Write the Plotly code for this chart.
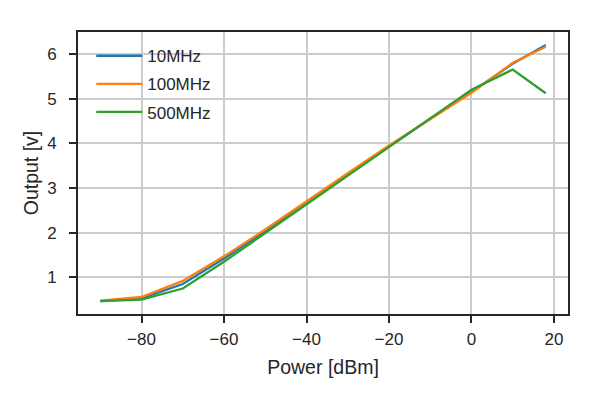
import plotly.graph_objects as go

power = [-90, -80, -70, -60, -50, -40, -30, -20, -10, 0, 10, 18]
out_10mhz = [0.47, 0.53, 0.85, 1.42, 2.03, 2.68, 3.30, 3.93, 4.55, 5.15, 5.78, 6.20]
out_100mhz = [0.48, 0.56, 0.92, 1.47, 2.07, 2.71, 3.33, 3.95, 4.55, 5.13, 5.80, 6.16]
out_500mhz = [0.47, 0.50, 0.75, 1.35, 1.99, 2.63, 3.28, 3.93, 4.55, 5.20, 5.65, 5.12]

series = [
    ("10MHz", out_10mhz, "#1f77b4"),
    ("100MHz", out_100mhz, "#ff7f0e"),
    ("500MHz", out_500mhz, "#2ca02c"),
]

fig = go.Figure()
for name, vals, color in series:
    fig.add_trace(go.Scatter(x=power, y=vals, mode="lines", name=name,
                             legendgroup=name,
                             line=dict(color=color, width=2.3)))

axis_common = dict(
    showline=True, linecolor="#262626", linewidth=1.8, mirror=True,
    ticks="outside", ticklen=7, tickwidth=1.6, tickcolor="#262626",
    showgrid=True, gridcolor="#cccccc", gridwidth=1.6,
    zeroline=False,
    tickfont=dict(size=17, color="#262626"),
)

fig.update_layout(
    width=600, height=400,
    margin=dict(l=78, r=32, t=32, b=86),
    paper_bgcolor="white", plot_bgcolor="white",
    font=dict(family="Liberation Sans, Arial, sans-serif", color="#262626"),
    xaxis=dict(range=[-95.4, 23.4], tickvals=[-80, -60, -40, -20, 0, 20],
               ticklabelstandoff=2,
               title=dict(text="Power [dBm]", font=dict(size=19.5), standoff=12),
               **axis_common),
    yaxis=dict(range=[0.18, 6.49], tickvals=[1, 2, 3, 4, 5, 6],
               ticklabelstandoff=9,
               title=dict(text="Output [v]", font=dict(size=19.5), standoff=3),
               **axis_common),
    legend=dict(x=0.027, y=0.978, xanchor="left", yanchor="top",
                itemwidth=46, tracegroupgap=3,
                bgcolor="rgba(255,255,255,0)", font=dict(size=17, color="#262626")),
)

fig.write_html("out.html", config={"displayModeBar": False},
               post_script="document.body.style.margin='0';")
